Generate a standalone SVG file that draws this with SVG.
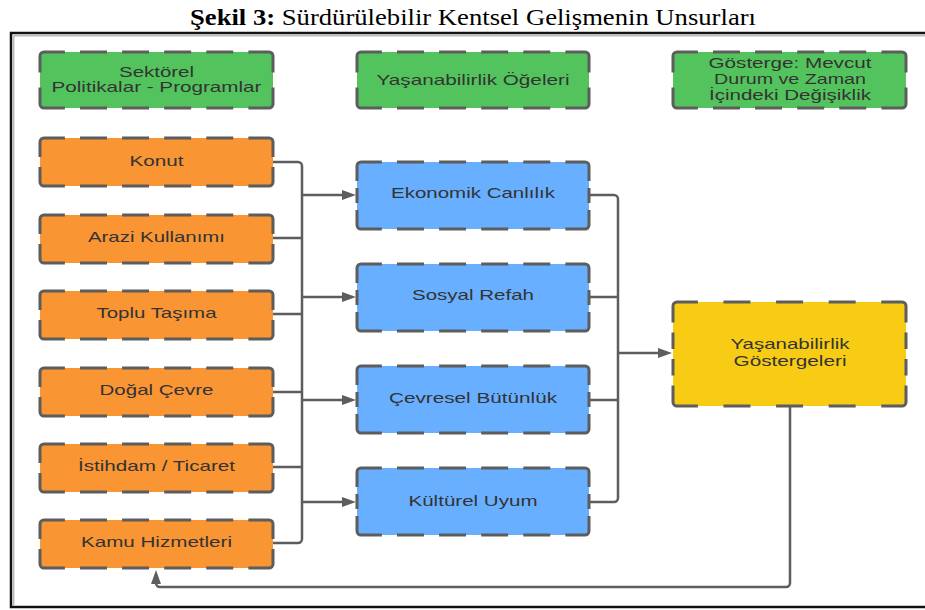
<svg xmlns="http://www.w3.org/2000/svg" width="925" height="610" viewBox="0 0 925 610">
<style>
.bg{fill:#ffffff}
.g{fill:#53c45d}
.o{fill:#f99533}
.b{fill:#69afff}
.y{fill:#f8cc14}
.eh{fill:none;stroke:#5d5d5d;stroke-width:3;stroke-dasharray:27 15.1}
.ehy{fill:none;stroke:#5d5d5d;stroke-width:3;stroke-dasharray:27 25.6}
.evg{fill:none;stroke:#5d5d5d;stroke-width:3;stroke-dasharray:16.5 15}
.evo{fill:none;stroke:#5d5d5d;stroke-width:3;stroke-dasharray:15 10}
.evb{fill:none;stroke:#5d5d5d;stroke-width:3;stroke-dasharray:15 7}
.evy{fill:none;stroke:#5d5d5d;stroke-width:3;stroke-dasharray:16.5 10}
.t{font-family:"Liberation Sans",Arial,sans-serif;font-size:14.5px;fill:#333333;text-anchor:middle}
.c{fill:none;stroke:#5d5d5d;stroke-width:2.5;stroke-linejoin:round}
.title{font-family:"Liberation Serif","Times New Roman",serif;font-size:24px;fill:#000;text-anchor:middle}
</style>
<defs>
<marker id="ah" markerWidth="14" markerHeight="10" refX="4" refY="5" orient="auto" markerUnits="userSpaceOnUse">
<path d="M0,0 L14,5 L0,10 Z" fill="#5d5d5d"/>
</marker>
</defs>
<rect class="bg" x="0" y="0" width="925" height="610"/>
<text class="title" x="473" y="25" textLength="566" lengthAdjust="spacingAndGlyphs"><tspan font-weight="bold">Şekil 3:</tspan> Sürdürülebilir Kentsel Gelişmenin Unsurları</text>
<g id="frame">
<rect x="11" y="33" width="930" height="574" fill="none" stroke="#111" stroke-width="2.5"/>
<path d="M13.8,605 V35.8 H925" fill="none" stroke="#9a9a9a" stroke-width="1"/>
</g>

<g id="g1">
<rect class="g" x="40" y="52" width="233" height="56" rx="4"/>
<path class="eh" d="M40,56 A4,4 0 0 1 44,52 H269 A4,4 0 0 1 273,56 M40,104 A4,4 0 0 0 44,108 H269 A4,4 0 0 0 273,104"/>
<path class="evg" d="M40,56 V104 M273,56 V104"/>
<text class="t" x="156.5" y="77" textLength="75" lengthAdjust="spacingAndGlyphs">Sektörel</text>
<text class="t" x="156.5" y="91.5" textLength="210" lengthAdjust="spacingAndGlyphs">Politikalar - Programlar</text>
</g>
<g id="g2">
<rect class="g" x="357" y="52" width="232" height="56" rx="4"/>
<path class="eh" d="M357,56 A4,4 0 0 1 361,52 H585 A4,4 0 0 1 589,56 M357,104 A4,4 0 0 0 361,108 H585 A4,4 0 0 0 589,104"/>
<path class="evg" d="M357,56 V104 M589,56 V104"/>
<text class="t" x="473" y="85" textLength="193" lengthAdjust="spacingAndGlyphs">Yaşanabilirlik Öğeleri</text>
</g>
<g id="g3">
<rect class="g" x="673" y="52" width="233" height="56" rx="4"/>
<path class="eh" d="M673,56 A4,4 0 0 1 677,52 H902 A4,4 0 0 1 906,56 M673,104 A4,4 0 0 0 677,108 H902 A4,4 0 0 0 906,104"/>
<path class="evg" d="M673,56 V104 M906,56 V104"/>
<text class="t" x="790" y="68" textLength="163" lengthAdjust="spacingAndGlyphs">Gösterge: Mevcut</text>
<text class="t" x="790" y="84" textLength="152" lengthAdjust="spacingAndGlyphs">Durum ve Zaman</text>
<text class="t" x="790" y="100" textLength="162" lengthAdjust="spacingAndGlyphs">İçindeki Değişiklik</text>
</g>

<g id="konut">
<rect class="o" x="40" y="138" width="233" height="48" rx="4"/>
<path class="eh" d="M40,142 A4,4 0 0 1 44,138 H269 A4,4 0 0 1 273,142 M40,182 A4,4 0 0 0 44,186 H269 A4,4 0 0 0 273,182"/>
<path class="evo" d="M40,142 V182 M273,142 V182"/>
<text class="t" x="156.5" y="166" textLength="54" lengthAdjust="spacingAndGlyphs">Konut</text>
</g>
<g id="arazi">
<rect class="o" x="40" y="215" width="233" height="48" rx="4"/>
<path class="eh" d="M40,219 A4,4 0 0 1 44,215 H269 A4,4 0 0 1 273,219 M40,259 A4,4 0 0 0 44,263 H269 A4,4 0 0 0 273,259"/>
<path class="evo" d="M40,219 V259 M273,219 V259"/>
<text class="t" x="156.5" y="242" textLength="137" lengthAdjust="spacingAndGlyphs">Arazi Kullanımı</text>
</g>
<g id="toplu">
<rect class="o" x="40" y="291" width="233" height="48" rx="4"/>
<path class="eh" d="M40,295 A4,4 0 0 1 44,291 H269 A4,4 0 0 1 273,295 M40,335 A4,4 0 0 0 44,339 H269 A4,4 0 0 0 273,335"/>
<path class="evo" d="M40,295 V335 M273,295 V335"/>
<text class="t" x="156.5" y="318" textLength="120" lengthAdjust="spacingAndGlyphs">Toplu Taşıma</text>
</g>
<g id="dogal">
<rect class="o" x="40" y="368" width="233" height="48" rx="4"/>
<path class="eh" d="M40,372 A4,4 0 0 1 44,368 H269 A4,4 0 0 1 273,372 M40,412 A4,4 0 0 0 44,416 H269 A4,4 0 0 0 273,412"/>
<path class="evo" d="M40,372 V412 M273,372 V412"/>
<text class="t" x="156.5" y="395" textLength="114" lengthAdjust="spacingAndGlyphs">Doğal Çevre</text>
</g>
<g id="istihdam">
<rect class="o" x="40" y="444" width="233" height="48" rx="4"/>
<path class="eh" d="M40,448 A4,4 0 0 1 44,444 H269 A4,4 0 0 1 273,448 M40,488 A4,4 0 0 0 44,492 H269 A4,4 0 0 0 273,488"/>
<path class="evo" d="M40,448 V488 M273,448 V488"/>
<text class="t" x="156.5" y="471" textLength="157" lengthAdjust="spacingAndGlyphs">İstihdam / Ticaret</text>
</g>
<g id="kamu">
<rect class="o" x="40" y="520" width="233" height="48" rx="4"/>
<path class="eh" d="M40,524 A4,4 0 0 1 44,520 H269 A4,4 0 0 1 273,524 M40,564 A4,4 0 0 0 44,568 H269 A4,4 0 0 0 273,564"/>
<path class="evo" d="M40,524 V564 M273,524 V564"/>
<text class="t" x="156.5" y="547" textLength="151" lengthAdjust="spacingAndGlyphs">Kamu Hizmetleri</text>
</g>

<g id="ekonomik">
<rect class="b" x="357" y="162" width="232" height="67" rx="4"/>
<path class="eh" d="M357,166 A4,4 0 0 1 361,162 H585 A4,4 0 0 1 589,166 M357,225 A4,4 0 0 0 361,229 H585 A4,4 0 0 0 589,225"/>
<path class="evb" d="M357,166 V225 M589,166 V225"/>
<text class="t" x="473" y="198" textLength="164" lengthAdjust="spacingAndGlyphs">Ekonomik Canlılık</text>
</g>
<g id="sosyal">
<rect class="b" x="357" y="264" width="232" height="67" rx="4"/>
<path class="eh" d="M357,268 A4,4 0 0 1 361,264 H585 A4,4 0 0 1 589,268 M357,327 A4,4 0 0 0 361,331 H585 A4,4 0 0 0 589,327"/>
<path class="evb" d="M357,268 V327 M589,268 V327"/>
<text class="t" x="473" y="300" textLength="122" lengthAdjust="spacingAndGlyphs">Sosyal Refah</text>
</g>
<g id="cevresel">
<rect class="b" x="357" y="366" width="232" height="67" rx="4"/>
<path class="eh" d="M357,370 A4,4 0 0 1 361,366 H585 A4,4 0 0 1 589,370 M357,429 A4,4 0 0 0 361,433 H585 A4,4 0 0 0 589,429"/>
<path class="evb" d="M357,370 V429 M589,370 V429"/>
<text class="t" x="473" y="403" textLength="168" lengthAdjust="spacingAndGlyphs">Çevresel Bütünlük</text>
</g>
<g id="kulturel">
<rect class="b" x="357" y="468" width="232" height="67" rx="4"/>
<path class="eh" d="M357,472 A4,4 0 0 1 361,468 H585 A4,4 0 0 1 589,472 M357,531 A4,4 0 0 0 361,535 H585 A4,4 0 0 0 589,531"/>
<path class="evb" d="M357,472 V531 M589,472 V531"/>
<text class="t" x="473" y="506" textLength="129" lengthAdjust="spacingAndGlyphs">Kültürel Uyum</text>
</g>

<g id="gostergeler">
<rect class="y" x="673" y="302" width="233" height="104" rx="4"/>
<path class="ehy" d="M673,306 A4,4 0 0 1 677,302 H902 A4,4 0 0 1 906,306 M673,402 A4,4 0 0 0 677,406 H902 A4,4 0 0 0 906,402"/>
<path class="evy" d="M673,306 V402 M906,306 V402"/>
<text class="t" x="790" y="349" textLength="119" lengthAdjust="spacingAndGlyphs">Yaşanabilirlik</text>
<text class="t" x="790" y="366" textLength="113" lengthAdjust="spacingAndGlyphs">Göstergeleri</text>
</g>

<g id="connectors">
<path class="c" d="M273,162 H298 A4,4 0 0 1 302,166 V539 A4,4 0 0 1 298,543 H273"/>
<path class="c" d="M273,238 H302 M273,314 H302 M273,392 H302 M273,467 H302"/>
<path class="c" d="M302,195 H346" marker-end="url(#ah)"/>
<path class="c" d="M302,297 H346" marker-end="url(#ah)"/>
<path class="c" d="M302,400 H346" marker-end="url(#ah)"/>
<path class="c" d="M302,502 H346" marker-end="url(#ah)"/>
<path class="c" d="M589,195 H614 A4,4 0 0 1 618,199 V498 A4,4 0 0 1 614,502 H589"/>
<path class="c" d="M589,297 H618 M589,400 H618"/>
<path class="c" d="M618,353 H662" marker-end="url(#ah)"/>
<path class="c" d="M790,406 V583 A4,4 0 0 1 786,587 H160 A4,4 0 0 1 156,583 V580" marker-end="url(#ah)"/>
</g>
</svg>
